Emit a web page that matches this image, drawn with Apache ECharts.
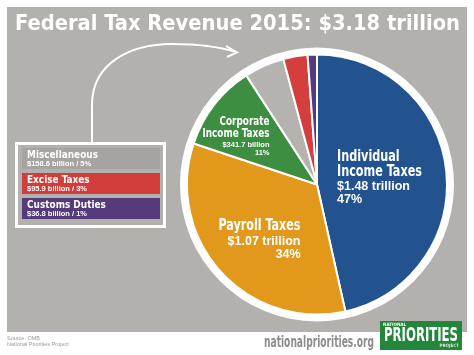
<!DOCTYPE html>
<html><head><meta charset="utf-8">
<script src="https://cdn.jsdelivr.net/npm/echarts@6/dist/echarts.min.js"></script>
<style>html,body{margin:0;padding:0;background:#fff}#c{width:474px;height:355px}</style>
</head><body><div id="c"></div>
<script>
// ---- data ----
const titleText = 'Federal Tax Revenue 2015: $3.18 trillion';
const categories = ['Individual\nIncome Taxes', 'Payroll Taxes', 'Corporate\nIncome Taxes', 'Miscellaneous', 'Excise Taxes', 'Customs Duties'];
const values = [1480, 1070, 341.7, 158.6, 95.9, 36.8]; // billions of dollars
const amountLabels = ['$1.48 trillion', '$1.07 trillion', '$341.7 billion', '$158.6 billion', '$95.9 billion', '$36.8 billion'];
const percentLabels = ['47%', '34%', '11%', '5%', '3%', '1%'];
const sliceColors = ['#23538f', '#e2991b', '#3e8e41', '#b5b3b0', '#d43e3c', '#553a7c'];
const legendColors = ['#a6a4a1', '#d13d3b', '#553a7c'];
const sourceLines = ['Source: OMB', 'National Priorities Project'];
const siteText = 'nationalpriorities.org';

// ---- styles / layout ----
const COND = "'DejaVu Sans Condensed','DejaVu Sans',sans-serif";
const SANS = "'Liberation Sans',Arial,sans-serif";
const measure = (txt, font) => { const c = document.createElement('canvas').getContext('2d'); c.font = font; return c.measureText(txt).width; };
const fitScale = (lines, size, family, target) => target / Math.max(...lines.map(t => measure(t, 'bold ' + size + 'px ' + family)));

// in-slice label layout (anchor x, alignment, cap-centre y of each line, sizes)
const labelCfg = [
  { x: 337, align: 'left', big: 16.5, bigW: 85, small: 12.5, ys: [157, 172, 186.5, 199.5] },
  { x: 300.5, align: 'right', big: 16, bigW: 82, small: 12.5, ys: [226, 241.5, 254.5] },
  { x: 269.5, align: 'right', big: 11.7, bigW: 67, small: 7.5, ys: [121.5, 134, 144.7, 152.7] }
];

const pieData = values.map((v, i) => ({ name: categories[i], value: v, itemStyle: { color: sliceColors[i] } }));

const graphics = [];
// panel
graphics.push({ type: 'rect', z: -10, shape: { x: 7, y: 7, width: 460, height: 325 }, style: { fill: '#b3b1ae' } });
// title
const titleScale = fitScale([titleText], 20.5, COND, 445);
graphics.push({ type: 'text', x: 15, y: 24.5, scaleX: titleScale, style: { text: titleText, fontFamily: COND, fontWeight: 'bold', fontSize: 20.5, fill: '#fff', verticalAlign: 'middle' } });
// slice labels
labelCfg.forEach((cfg, i) => {
  const bigLines = categories[i].split('\n');
  const sc = fitScale(bigLines, cfg.big, COND, cfg.bigW);
  const all = bigLines.map(t => ({ t, big: true })).concat([{ t: amountLabels[i] }, { t: percentLabels[i] }]);
  all.forEach((ln, k) => {
    graphics.push({
      type: 'text', z: 100, x: cfg.x, y: cfg.ys[k], scaleX: ln.big ? sc : 1,
      style: {
        text: ln.t, fontFamily: ln.big ? COND : SANS, fontWeight: 'bold', fontSize: ln.big ? cfg.big : cfg.small,
        fill: '#fff', align: cfg.align, verticalAlign: 'middle'
      }
    });
  });
});
// arrow
const arrowStyle = { stroke: '#fff', lineWidth: 2, fill: null };
graphics.push({ type: 'line', shape: { x1: 92, y1: 143, x2: 92, y2: 105 }, style: arrowStyle });
graphics.push({ type: 'bezierCurve', shape: { x1: 92, y1: 105, cpx1: 92, cpy1: 62, cpx2: 132, cpy2: 44, x2: 172, y2: 44 }, style: arrowStyle });
graphics.push({ type: 'bezierCurve', shape: { x1: 172, y1: 44, cpx1: 200, cpy1: 44, cpx2: 220, cpy2: 47, x2: 236, y2: 52 }, style: arrowStyle });
graphics.push({ type: 'polyline', shape: { points: [[226, 46], [237, 52.5], [227, 57]] }, style: arrowStyle });
// legend box for the small slices
graphics.push({ type: 'rect', shape: { x: 16.5, y: 143.5, width: 148, height: 83 }, style: { stroke: '#fff', lineWidth: 3, fill: null } });
const legScale = fitScale([categories[3]], 11, COND, 71);
[3, 4, 5].forEach((idx, k) => {
  const top = 148 + k * 25;
  graphics.push({ type: 'rect', shape: { x: 22, y: top, width: 138, height: 21 }, style: { fill: legendColors[k] } });
  graphics.push({ type: 'text', x: 27, y: top + 6.8, scaleX: legScale, style: { text: categories[idx], fontFamily: COND, fontWeight: 'bold', fontSize: 11, fill: '#fff', verticalAlign: 'middle' } });
  graphics.push({ type: 'text', x: 27, y: top + 15.8, style: { text: amountLabels[idx] + ' / ' + percentLabels[idx], fontFamily: SANS, fontWeight: 'bold', fontSize: 7.5, fill: '#fff', verticalAlign: 'middle' } });
});
// footer
sourceLines.forEach((s, k) => graphics.push({ type: 'text', x: 7, y: 338 + k * 6.5, style: { text: s, fontFamily: SANS, fontSize: 5.5, fill: '#9a9a9a', verticalAlign: 'middle' } }));
const siteScale = fitScale([siteText], 15, COND, 110);
graphics.push({ type: 'text', x: 264, y: 343, scaleX: siteScale, style: { text: siteText, fontFamily: COND, fontWeight: 'bold', fontSize: 15, fill: '#8c8c8c', verticalAlign: 'middle' } });
// logo
graphics.push({ type: 'rect', shape: { x: 380, y: 321, width: 82, height: 29 }, style: { fill: '#22873a' } });
graphics.push({ type: 'text', x: 383, y: 324.5, style: { text: 'NATIONAL', fontFamily: COND, fontWeight: 'bold', fontSize: 4.5, fill: '#fff', verticalAlign: 'middle' } });
const logoScale = fitScale(['PRIORITIES'], 20, COND, 74);
graphics.push({ type: 'text', x: 384, y: 335.5, scaleX: logoScale, style: { text: 'PRIORITIES', fontFamily: COND, fontWeight: 'bold', fontSize: 20, fill: '#fff', verticalAlign: 'middle' } });
graphics.push({ type: 'text', x: 459, y: 346, style: { text: 'PROJECT', fontFamily: COND, fontWeight: 'bold', fontSize: 4.5, fill: '#d8ecd8', align: 'right', verticalAlign: 'middle' } });

const chart = echarts.init(document.getElementById('c'), null, { renderer: 'canvas' });
chart.setOption({
  animation: false,
  backgroundColor: '#fff',
  graphic: { elements: graphics },
  series: [
    {
      type: 'pie', center: [317, 184.5], radius: [130, 137], silent: true, z: 1,
      label: { show: false }, labelLine: { show: false },
      data: [{ value: 1, itemStyle: { color: '#fff' } }]
    },
    {
      type: 'pie', center: [317, 184.5], radius: [0, 130], startAngle: 90, clockwise: true,
      silent: true, z: 2,
      itemStyle: { borderColor: '#fff', borderWidth: 2 },
      label: { show: false }, labelLine: { show: false },
      data: pieData
    }
  ]
});
</script></body></html>
